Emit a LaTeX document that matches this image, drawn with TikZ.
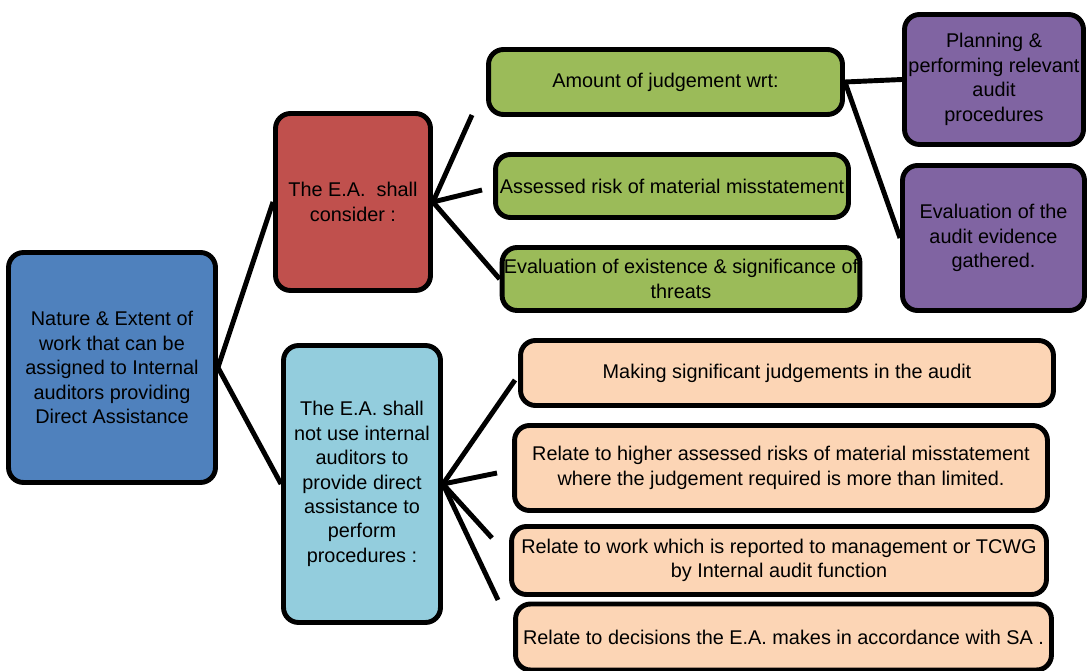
\documentclass[tikz,border=0pt]{standalone}
\usepackage{fontspec}
\setmainfont{Liberation Sans}
\usepackage{xcolor}
\definecolor{natblue}{HTML}{4F81BD}
\definecolor{conred}{HTML}{C0504D}
\definecolor{wrtgreen}{HTML}{9BBB59}
\definecolor{audpurple}{HTML}{8064A2}
\definecolor{notblue}{HTML}{93CDDD}
\definecolor{peach}{HTML}{FCD5B5}

\begin{document}
\begin{tikzpicture}[x=0.02cm, y=-0.02cm, line width=2.8pt,
    box/.style={draw, rounded corners=0.3cm, align=center, inner sep=1pt,
        font=\fontsize{11.3}{13.9}\selectfont}]
    \useasboundingbox (0,0) rectangle (1087,671);

    \node[box, fill=natblue, minimum width=4.14cm, minimum height=4.6cm] (nature) at (112,367.5)
        {Nature \& Extent of\\work that can be\\assigned to Internal\\auditors providing\\Direct Assistance};

    \node[box, fill=conred, minimum width=3.1cm, minimum height=3.54cm] (consider) at (353,202)
        {The E.A.\ \ shall\\consider :};
    \node[box, fill=wrtgreen, minimum width=7.08cm, minimum height=1.3cm] (judge) at (665.5,82)
        {Amount of judgement wrt:};
    \node[box, fill=wrtgreen, minimum width=7.06cm, minimum height=1.26cm] (risk) at (672,186)
        {Assessed risk of material misstatement};
    \node[box, fill=wrtgreen, minimum width=7.06cm, minimum height=1.26cm] (threats) at (681,279)
        {Evaluation of existence \& significance of\\threats};
    \node[box, fill=audpurple, minimum width=3.58cm, minimum height=2.6cm] (plan) at (994,79.5)
        {Planning \&\\performing relevant\\audit\\procedures};
    \node[box, fill=audpurple, minimum width=3.64cm, minimum height=2.9cm] (evid) at (993.5,238)
        {Evaluation of the\\audit evidence\\gathered.};

    \node[box, fill=notblue, minimum width=3.14cm, minimum height=5.54cm] (notuse) at (362,484)
        {The E.A. shall\\not use internal\\auditors to\\provide direct\\assistance to\\perform\\procedures :};
    \node[box, fill=peach, minimum width=10.66cm, minimum height=1.3cm] (signif) at (787,373)
        {Making significant judgements in the audit};
    \node[box, fill=peach, minimum width=10.66cm, minimum height=1.7cm] (higher) at (781,468)
        {Relate to higher assessed risks of material misstatement\\where the judgement required is more than limited.};
    \node[box, fill=peach, minimum width=10.7cm, minimum height=1.36cm] (report) at (779,560.5)
        {Relate to work which is reported to management or TCWG\\by Internal audit function};
    \node[box, fill=peach, minimum width=10.72cm, minimum height=1.32cm] (decide) at (783.5,637)
        {Relate to decisions the E.A. makes in accordance with SA .};

    % loose ends of the connectors
    \coordinate (c1) at (472,115);
    \coordinate (c2) at (482,190);
    \coordinate (n1) at (515,380);
    \coordinate (n2) at (497,473);
    \coordinate (n3) at (492,538);
    \coordinate (n4) at (498,600);

    \draw (nature.east) -- (consider.west);
    \draw (nature.east) -- (notuse.west);
    \draw (consider.east) -- (c1);
    \draw (consider.east) -- (c2);
    \draw (consider.east) -- (threats.west);
    \draw (judge.east) -- (plan.west);
    \draw (judge.east) -- (evid.west);
    \draw (notuse.east) -- (n1);
    \draw (notuse.east) -- (n2);
    \draw (notuse.east) -- (n3);
    \draw (notuse.east) -- (n4);
\end{tikzpicture}
\end{document}
